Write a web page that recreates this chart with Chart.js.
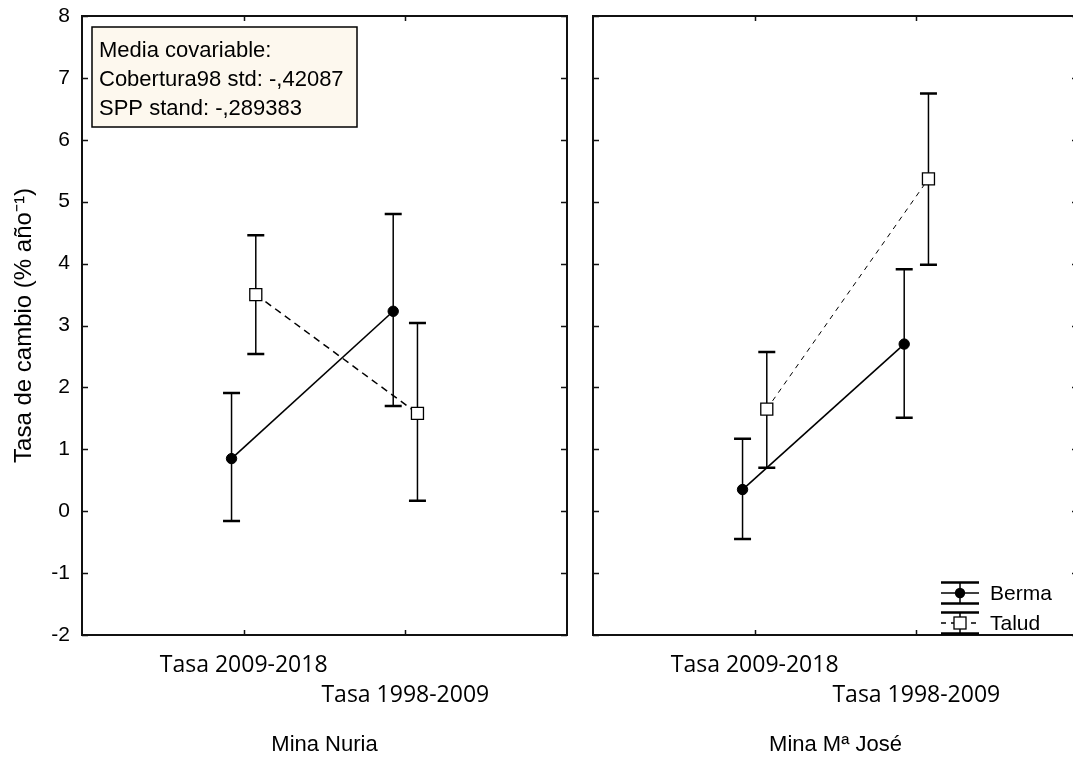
<!DOCTYPE html>
<html>
<head>
<meta charset="utf-8">
<script src="https://cdn.jsdelivr.net/npm/chart.js@4/dist/chart.umd.min.js"></script>
<style>
  html, body { margin: 0; padding: 0; background: #fff; overflow: hidden; width: 1073px; height: 758px; }
  #nuria { position: absolute; left: 0; top: 0; }
  #jose { position: absolute; left: 580px; top: 0; }
</style>
</head>
<body>
<canvas id="nuria" width="580" height="758"></canvas>
<canvas id="jose" width="498" height="758"></canvas>
<script>
const periods = ['Tasa 2009-2018', 'Tasa 1998-2009'];
const seriesNames = ['Berma', 'Talud'];
const mines = ['Mina Nuria', 'Mina Mª José'];
const yTickValues = [-2, -1, 0, 1, 2, 3, 4, 5, 6, 7, 8];
const yTitle = 'Tasa de cambio (% año⁻¹)';
const covariateNotes = ['Media covariable:', 'Cobertura98 std: -,42087', 'SPP stand: -,289383'];

// Mina Nuria
const nuriaBerma = [0.85, 3.23];
const nuriaBermaLow = [-0.16, 1.70];
const nuriaBermaHigh = [1.91, 4.80];
const nuriaTalud = [3.50, 1.58];
const nuriaTaludLow = [2.54, 0.17];
const nuriaTaludHigh = [4.46, 3.04];

// Mina Mª José
const joseBerma = [0.35, 2.70];
const joseBermaLow = [-0.45, 1.51];
const joseBermaHigh = [1.17, 3.91];
const joseTalud = [1.65, 5.37];
const joseTaludLow = [0.70, 3.98];
const joseTaludHigh = [2.57, 6.75];

// Berma sits just left of the period tick, Talud just right
const groupOffset = 0.075;

const ARIAL = '"Liberation Sans", Arial, sans-serif';
const CALIBRI = '"Open Sans", "Noto Sans", sans-serif';

function toPoints(values, shift) {
  return values.map((v, i) => ({ x: i + 1 + shift, y: v }));
}

const errorBars = {
  id: 'errorBars',
  beforeDatasetsDraw(chart) {
    const ctx = chart.ctx;
    const y = chart.scales.y;
    ctx.save();
    ctx.strokeStyle = '#000';
    chart.data.datasets.forEach((ds, di) => {
      const meta = chart.getDatasetMeta(di);
      meta.data.forEach((pt, j) => {
        const top = y.getPixelForValue(ds.high[j]);
        const bot = y.getPixelForValue(ds.low[j]);
        ctx.lineWidth = 1.5;
        ctx.beginPath();
        ctx.moveTo(pt.x, top);
        ctx.lineTo(pt.x, bot);
        ctx.stroke();
        ctx.lineWidth = 2.5;
        ctx.beginPath();
        ctx.moveTo(pt.x - 8.5, top);
        ctx.lineTo(pt.x + 8.5, top);
        ctx.moveTo(pt.x - 8.5, bot);
        ctx.lineTo(pt.x + 8.5, bot);
        ctx.stroke();
      });
    });
    ctx.restore();
  }
};

const frame = {
  id: 'frame',
  beforeDatasetsDraw(chart) {
    const { ctx, chartArea: a, scales } = chart;
    ctx.save();
    ctx.strokeStyle = '#111';
    ctx.lineWidth = 2;
    ctx.strokeRect(a.left, a.top, a.right - a.left, a.bottom - a.top);
    ctx.lineWidth = 1.5;
    ctx.beginPath();
    scales.y.ticks.forEach((t) => {
      const py = Math.round(scales.y.getPixelForValue(t.value)) + 0.5;
      ctx.moveTo(a.left, py);
      ctx.lineTo(a.left + 6, py);
      ctx.moveTo(a.right - 6, py);
      ctx.lineTo(a.right, py);
    });
    scales.x.ticks.forEach((t) => {
      const px = Math.round(scales.x.getPixelForValue(t.value)) + 0.5;
      ctx.moveTo(px, a.top);
      ctx.lineTo(px, a.top + 5);
      ctx.moveTo(px, a.bottom - 5);
      ctx.lineTo(px, a.bottom);
    });
    ctx.stroke();
    ctx.restore();
  }
};

const covariateBox = {
  id: 'covariateBox',
  afterDraw(chart) {
    const { ctx, chartArea: a } = chart;
    const x = a.left + 10, y = a.top + 11;
    ctx.save();
    ctx.fillStyle = '#fdf8ee';
    ctx.fillRect(x, y, 265, 100);
    ctx.strokeStyle = '#000';
    ctx.lineWidth = 1.5;
    ctx.strokeRect(x, y, 265, 100);
    ctx.fillStyle = '#000';
    ctx.font = '22px ' + ARIAL;
    ctx.textBaseline = 'alphabetic';
    covariateNotes.forEach((line, i) => {
      ctx.fillText(line, x + 7, y + 30 + i * 29);
    });
    ctx.restore();
  }
};

const seriesKey = {
  id: 'seriesKey',
  afterDraw(chart) {
    const { ctx, chartArea: a } = chart;
    const gx = a.right - 118;
    ctx.save();
    chart.data.datasets.forEach((ds, i) => {
      const gy = a.bottom - 42 + i * 30;
      ctx.strokeStyle = '#000';
      ctx.lineWidth = 2.5;
      ctx.beginPath();
      ctx.moveTo(gx - 19, gy - 10.5);
      ctx.lineTo(gx + 19, gy - 10.5);
      ctx.moveTo(gx - 19, gy + 10.5);
      ctx.lineTo(gx + 19, gy + 10.5);
      ctx.stroke();
      ctx.lineWidth = 1.5;
      ctx.beginPath();
      ctx.moveTo(gx, gy - 10.5);
      ctx.lineTo(gx, gy + 10.5);
      ctx.stroke();
      ctx.setLineDash(ds.borderDash || []);
      ctx.beginPath();
      ctx.moveTo(gx - 19, gy);
      ctx.lineTo(gx + 19, gy);
      ctx.stroke();
      ctx.setLineDash([]);
      if (ds.pointStyle === 'rect') {
        ctx.fillStyle = '#fff';
        ctx.fillRect(gx - 6, gy - 6, 12, 12);
        ctx.lineWidth = 1.3;
        ctx.strokeRect(gx - 6, gy - 6, 12, 12);
      } else {
        ctx.fillStyle = '#000';
        ctx.beginPath();
        ctx.arc(gx, gy, 5.2, 0, Math.PI * 2);
        ctx.fill();
      }
      ctx.fillStyle = '#000';
      ctx.font = '21px ' + ARIAL;
      ctx.textBaseline = 'middle';
      ctx.fillText(ds.label, gx + 30, gy + 1);
    });
    ctx.restore();
  }
};

function buildPanel(canvasId, cfg) {
  return new Chart(document.getElementById(canvasId), {
    type: 'line',
    data: {
      datasets: [
        {
          label: seriesNames[0],
          data: toPoints(cfg.berma, -groupOffset),
          low: cfg.bermaLow,
          high: cfg.bermaHigh,
          borderColor: '#000',
          borderWidth: 1.6,
          pointStyle: 'circle',
          pointRadius: 5.2,
          pointBackgroundColor: '#000',
          pointBorderColor: '#000',
          pointBorderWidth: 1,
          tension: 0
        },
        {
          label: seriesNames[1],
          data: toPoints(cfg.talud, groupOffset),
          low: cfg.taludLow,
          high: cfg.taludHigh,
          borderColor: '#000',
          borderWidth: cfg.dashWidth,
          borderDash: cfg.dash,
          pointStyle: 'rect',
          pointRadius: 8.5,
          pointBackgroundColor: '#fff',
          pointBorderColor: '#000',
          pointBorderWidth: 1.3,
          tension: 0
        }
      ]
    },
    options: {
      responsive: false,
      animation: false,
      layout: { padding: cfg.padding, autoPadding: false },
      plugins: { legend: { display: false }, tooltip: { enabled: false } },
      scales: {
        x: {
          type: 'linear',
          min: 0,
          max: 3,
          grid: { display: false, drawTicks: false },
          border: { display: false },
          afterBuildTicks: (s) => { s.ticks = periods.map((p, i) => ({ value: i + 1 })); },
          afterFit: (s) => {
            s.height = 123;
            s.paddingLeft = 0;
            s.paddingRight = 0;
          },
          ticks: {
            autoSkip: false,
            maxRotation: 0,
            padding: 16,
            color: '#000',
            font: { family: CALIBRI, size: 23, lineHeight: 1.28 },
            callback: (v) => {
              const lines = periods.map(() => '');
              lines[v - 1] = periods[v - 1];
              return lines;
            }
          },
          title: {
            display: true,
            text: cfg.mine,
            color: '#000',
            font: { family: ARIAL, size: 22 },
            padding: 0
          }
        },
        y: {
          display: cfg.showY,
          min: yTickValues[0],
          max: yTickValues[yTickValues.length - 1],
          grid: { display: false, drawTicks: false },
          border: { display: false },
          afterBuildTicks: (s) => { s.ticks = yTickValues.map((v) => ({ value: v })); },
          afterFit: (s) => {
            if (cfg.showY) s.width = 82;
            s.paddingTop = 0;
            s.paddingBottom = 0;
          },
          ticks: { padding: 12, color: '#000', font: { family: ARIAL, size: 21 } },
          title: {
            display: true,
            text: yTitle,
            color: '#000',
            font: { family: ARIAL, size: 24 },
            padding: { top: 10, bottom: 0 }
          }
        }
      }
    },
    plugins: cfg.plugins
  });
}

buildPanel('nuria', {
  mine: mines[0],
  berma: nuriaBerma, bermaLow: nuriaBermaLow, bermaHigh: nuriaBermaHigh,
  talud: nuriaTalud, taludLow: nuriaTaludLow, taludHigh: nuriaTaludHigh,
  dash: [7, 5], dashWidth: 1.5,
  showY: true,
  padding: { top: 16, right: 13, left: 0, bottom: 0 },
  plugins: [frame, errorBars, covariateBox]
});

buildPanel('jose', {
  mine: mines[1],
  berma: joseBerma, bermaLow: joseBermaLow, bermaHigh: joseBermaHigh,
  talud: joseTalud, taludLow: joseTaludLow, taludHigh: joseTaludHigh,
  dash: [5, 5], dashWidth: 1,
  showY: false,
  padding: { top: 16, right: 0, left: 13, bottom: 0 },
  plugins: [frame, errorBars, seriesKey]
});
</script>
</body>
</html>
